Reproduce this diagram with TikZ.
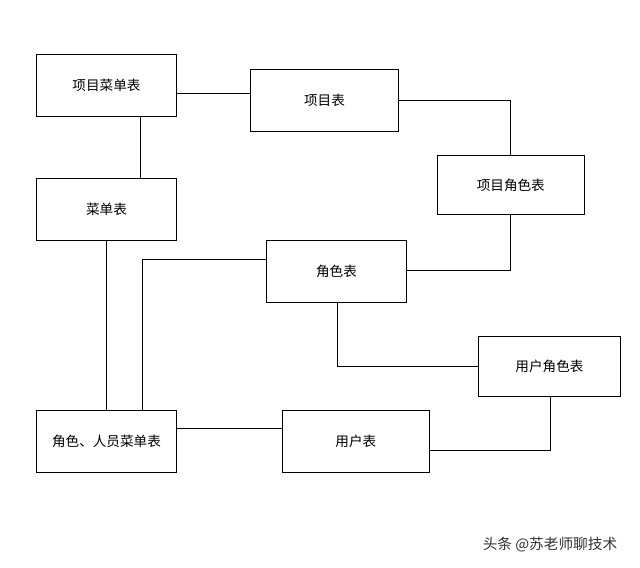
\documentclass[tikz,border=0pt]{standalone}
\usepackage{fontspec}
\setmainfont{Noto Sans CJK SC}
\begin{document}
\begin{tikzpicture}[x=0.75pt,y=-0.75pt,
  tbl/.style={draw,line width=0.7pt,minimum width=105pt,minimum height=46.5pt,font=\fontsize{10.2}{12}\selectfont,anchor=north west,inner sep=0},
  ln/.style={line width=0.7pt}]
\useasboundingbox (0,0) rectangle (640,568);
\fill[white] (0,0) rectangle (640,568);
\node[tbl] (xmcd) at (36,54) {项目菜单表};
\node[tbl,minimum width=111pt] (xm) at (250,69) {项目表};
\node[tbl,minimum width=110pt,minimum height=44.5pt] (xmjs) at (437,155) {项目角色表};
\node[tbl] (cd) at (36,178) {菜单表};
\node[tbl] (js) at (266,240) {角色表};
\node[tbl,minimum width=106.5pt,minimum height=45pt] (yhjs) at (478,336) {用户角色表};
\node[tbl] (jsry) at (36,410) {角色、人员菜单表};
\node[tbl,minimum width=110pt] (yh) at (282,410) {用户表};
\draw[ln] (xmcd.east |- 0,93) -- (xm.west |- 0,93);
\draw[ln] (xm.east |- 0,100) -| (510,0 |- xmjs.north);
\draw[ln] (510,0 |- xmjs.south) |- (js.east |- 0,270);
\draw[ln] (140,0 |- xmcd.south) -- (140,0 |- cd.north);
\draw[ln] (106,0 |- cd.south) -- (106,0 |- jsry.north);
\draw[ln] (js.west |- 0,259) -| (142,0 |- jsry.north);
\draw[ln] (337,0 |- js.south) |- (yhjs.west |- 0,366);
\draw[ln] (550,0 |- yhjs.south) |- (yh.east |- 0,450);
\draw[ln] (jsry.east |- 0,428) -- (yh.west |- 0,428);
\node[text=black!80,font=\fontsize{11}{13}\selectfont] (wm) at (550,545) {头条 @苏老师聊技术};
\end{tikzpicture}
\end{document}
